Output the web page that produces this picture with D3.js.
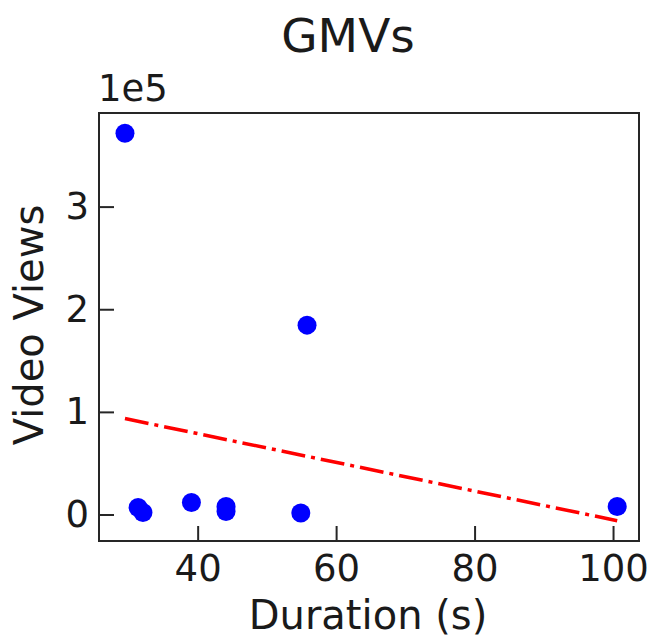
<!DOCTYPE html>
<html>
<head>
<meta charset="utf-8">
<script src="https://cdn.jsdelivr.net/npm/d3@7"></script>
<style>
  html, body { margin: 0; padding: 0; background: #fff; }
  text { font-family: "DejaVu Sans", sans-serif; fill: #1a1a1a; }
</style>
</head>
<body>
<svg id="chart" width="652" height="640"></svg>
<script>
// Data
const durations = [29.5, 31.4, 32.1, 39.1, 44.1, 44.1, 54.9, 55.8, 100.6];
const views     = [371500, 6800, 1900, 11700, 7800, 2900, 1500, 184500, 7800];
const trendX = [29.5, 100.6];
const trendY = [93500, -6000];
const xTicks = [40, 60, 80, 100];
const yTicks = [0, 100000, 200000, 300000];
const yTickLabels = ["0", "1", "2", "3"];
const title = "GMVs";
const xLabel = "Duration (s)";
const yLabel = "Video Views";
const offsetLabel = "1e5";

const svg = d3.select("#chart");
const mL = 99, mR = 639, mT = 113, mB = 541;
const tickFont = 37;

const x = d3.scaleLinear().domain([25.75, 103.75]).range([mL, mR]);
const y = d3.scaleLinear().domain([-25800, 391200]).range([mB, mT]);

// frame
svg.append("rect")
  .attr("x", mL).attr("y", mT)
  .attr("width", mR - mL).attr("height", mB - mT)
  .attr("fill", "none").attr("stroke", "#262626").attr("stroke-width", 2);

// axes with inward ticks
const xAxis = d3.axisBottom(x).tickValues(xTicks).tickSizeInner(-15).tickSizeOuter(0).tickPadding(14).tickFormat(d3.format("d"));
const gx = svg.append("g").attr("transform", `translate(0,${mB})`).call(xAxis);
gx.select(".domain").remove();
gx.selectAll(".tick line").attr("stroke", "#262626").attr("stroke-width", 2);
gx.selectAll(".tick text").attr("font-size", tickFont).attr("font-family", "DejaVu Sans").attr("fill", "#1a1a1a");

const yAxis = d3.axisLeft(y).tickValues(yTicks).tickSizeInner(-15).tickSizeOuter(0).tickPadding(10)
  .tickFormat((d, i) => yTickLabels[i]);
const gy = svg.append("g").attr("transform", `translate(${mL},0)`).call(yAxis);
gy.select(".domain").remove();
gy.selectAll(".tick line").attr("stroke", "#262626").attr("stroke-width", 2);
gy.selectAll(".tick text").attr("font-size", tickFont).attr("font-family", "DejaVu Sans").attr("fill", "#1a1a1a");

// points
svg.append("g").selectAll("circle")
  .data(durations.map((d, i) => [d, views[i]]))
  .join("circle")
  .attr("cx", d => x(d[0])).attr("cy", d => y(d[1]))
  .attr("r", 9.5).attr("fill", "#0000ff");

// trend line
svg.append("path")
  .datum(trendX.map((d, i) => [d, trendY[i]]))
  .attr("d", d3.line().x(d => x(d[0])).y(d => y(d[1])))
  .attr("fill", "none").attr("stroke", "#ff0000").attr("stroke-width", 3.5)
  .attr("stroke-dasharray", "24,6,4,6");

// texts
svg.append("text").attr("x", 348).attr("y", 52).attr("text-anchor", "middle")
  .attr("font-size", 47).text(title);
svg.append("text").attr("x", 368).attr("y", 629).attr("text-anchor", "middle")
  .attr("font-size", 40).text(xLabel);
svg.append("text").attr("transform", "translate(43,325) rotate(-90)").attr("text-anchor", "middle")
  .attr("font-size", 40).text(yLabel);
svg.append("text").attr("x", 98).attr("y", 101).attr("text-anchor", "start")
  .attr("font-size", tickFont).text(offsetLabel);
</script>
</body>
</html>
